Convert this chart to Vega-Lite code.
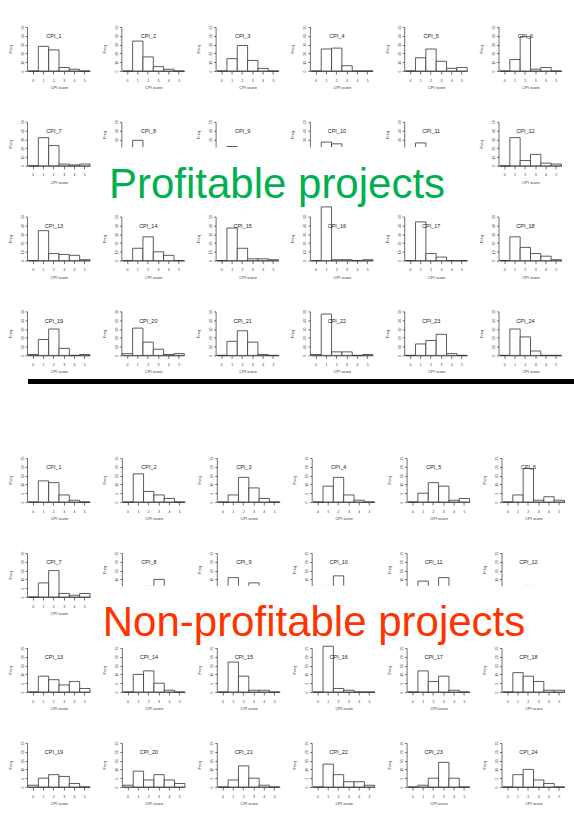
{
  "$schema": "https://vega.github.io/schema/vega-lite/v6.json",
  "background": "white",
  "padding": {"left": 8, "top": 25, "right": 0, "bottom": 0},
  "spacing": 72,
  "datasets": {
    "P": [
      {"b":0,"CPI_1":0,"CPI_2":0,"CPI_3":0,"CPI_4":0,"CPI_5":0,"CPI_6":0,"CPI_7":0,"CPI_8":0,"CPI_9":0,"CPI_10":0,"CPI_11":0,"CPI_12":0,"CPI_13":0,"CPI_14":0,"CPI_15":0,"CPI_16":0,"CPI_17":0,"CPI_18":0,"CPI_19":1,"CPI_20":2,"CPI_21":0,"CPI_22":1,"CPI_23":0,"CPI_24":0},
      {"b":1,"CPI_1":28,"CPI_2":34,"CPI_3":14,"CPI_4":25,"CPI_5":15,"CPI_6":13,"CPI_7":32,"CPI_8":29,"CPI_9":22,"CPI_10":27,"CPI_11":26,"CPI_12":32,"CPI_13":34,"CPI_14":14,"CPI_15":37,"CPI_16":61,"CPI_17":44,"CPI_18":27,"CPI_19":18,"CPI_20":31,"CPI_21":16,"CPI_22":47,"CPI_23":13,"CPI_24":30},
      {"b":2,"CPI_1":24,"CPI_2":16,"CPI_3":29,"CPI_4":26,"CPI_5":25,"CPI_6":39,"CPI_7":23,"CPI_8":17,"CPI_9":18,"CPI_10":25,"CPI_11":19,"CPI_12":6,"CPI_13":8,"CPI_14":27,"CPI_15":14,"CPI_16":1,"CPI_17":8,"CPI_18":15,"CPI_19":30,"CPI_20":15,"CPI_21":28,"CPI_22":4,"CPI_23":17,"CPI_24":21},
      {"b":3,"CPI_1":4,"CPI_2":5,"CPI_3":12,"CPI_4":6,"CPI_5":11,"CPI_6":2,"CPI_7":2,"CPI_8":6,"CPI_9":9,"CPI_10":7,"CPI_11":8,"CPI_12":13,"CPI_13":7,"CPI_14":10,"CPI_15":2,"CPI_16":1,"CPI_17":4,"CPI_18":8,"CPI_19":8,"CPI_20":7,"CPI_21":15,"CPI_22":4,"CPI_23":24,"CPI_24":5},
      {"b":4,"CPI_1":2,"CPI_2":2,"CPI_3":3,"CPI_4":0,"CPI_5":3,"CPI_6":4,"CPI_7":1,"CPI_8":2,"CPI_9":3,"CPI_10":2,"CPI_11":2,"CPI_12":3,"CPI_13":6,"CPI_14":6,"CPI_15":2,"CPI_16":0,"CPI_17":0,"CPI_18":5,"CPI_19":0,"CPI_20":1,"CPI_21":1,"CPI_22":0,"CPI_23":2,"CPI_24":0},
      {"b":5,"CPI_1":0,"CPI_2":0,"CPI_3":0,"CPI_4":0,"CPI_5":4,"CPI_6":0,"CPI_7":2,"CPI_8":0,"CPI_9":1,"CPI_10":0,"CPI_11":0,"CPI_12":2,"CPI_13":1,"CPI_14":0,"CPI_15":1,"CPI_16":1,"CPI_17":0,"CPI_18":1,"CPI_19":1,"CPI_20":2,"CPI_21":0,"CPI_22":1,"CPI_23":0,"CPI_24":0}
    ],
    "N": [
      {"b":0,"CPI_1":0,"CPI_2":0,"CPI_3":0,"CPI_4":0,"CPI_5":0,"CPI_6":0,"CPI_7":0,"CPI_8":0,"CPI_9":0,"CPI_10":0,"CPI_11":0,"CPI_12":0,"CPI_13":0,"CPI_14":0,"CPI_15":0,"CPI_16":0,"CPI_17":0,"CPI_18":0,"CPI_19":1,"CPI_20":1,"CPI_21":0,"CPI_22":0,"CPI_23":0,"CPI_24":0},
      {"b":1,"CPI_1":12,"CPI_2":16,"CPI_3":4,"CPI_4":9,"CPI_5":5,"CPI_6":4,"CPI_7":8,"CPI_8":4,"CPI_9":11,"CPI_10":6,"CPI_11":9,"CPI_12":5,"CPI_13":9,"CPI_14":10,"CPI_15":17,"CPI_16":26,"CPI_17":12,"CPI_18":11,"CPI_19":5,"CPI_20":9,"CPI_21":4,"CPI_22":13,"CPI_23":1,"CPI_24":7},
      {"b":2,"CPI_1":11,"CPI_2":6,"CPI_3":14,"CPI_4":14,"CPI_5":11,"CPI_6":19,"CPI_7":15,"CPI_8":6,"CPI_9":5,"CPI_10":12,"CPI_11":5,"CPI_12":6,"CPI_13":7,"CPI_14":12,"CPI_15":9,"CPI_16":2,"CPI_17":6,"CPI_18":9,"CPI_19":7,"CPI_20":4,"CPI_21":12,"CPI_22":7,"CPI_23":5,"CPI_24":10},
      {"b":3,"CPI_1":4,"CPI_2":4,"CPI_3":8,"CPI_4":4,"CPI_5":9,"CPI_6":1,"CPI_7":2,"CPI_8":10,"CPI_9":8,"CPI_10":5,"CPI_11":11,"CPI_12":4,"CPI_13":4,"CPI_14":5,"CPI_15":1,"CPI_16":1,"CPI_17":9,"CPI_18":6,"CPI_19":6,"CPI_20":7,"CPI_21":5,"CPI_22":3,"CPI_23":14,"CPI_24":4},
      {"b":4,"CPI_1":1,"CPI_2":2,"CPI_3":2,"CPI_4":1,"CPI_5":1,"CPI_6":3,"CPI_7":1,"CPI_8":3,"CPI_9":2,"CPI_10":2,"CPI_11":3,"CPI_12":3,"CPI_13":6,"CPI_14":1,"CPI_15":1,"CPI_16":0,"CPI_17":1,"CPI_18":1,"CPI_19":2,"CPI_20":4,"CPI_21":1,"CPI_22":3,"CPI_23":5,"CPI_24":2},
      {"b":5,"CPI_1":0,"CPI_2":0,"CPI_3":0,"CPI_4":0,"CPI_5":2,"CPI_6":1,"CPI_7":2,"CPI_8":1,"CPI_9":1,"CPI_10":0,"CPI_11":1,"CPI_12":4,"CPI_13":2,"CPI_14":0,"CPI_15":0,"CPI_16":0,"CPI_17":0,"CPI_18":1,"CPI_19":0,"CPI_20":2,"CPI_21":0,"CPI_22":1,"CPI_23":0,"CPI_24":0}
    ]
  },
  "vconcat": [
    {
      "spacing": 5,
      "vconcat": [
        {
          "data": {"name": "P"},
          "columns": 6,
          "bounds": "flush",
          "spacing": {"row": 50.8, "column": 32.3},
          "concat": [
            {"width":62,"height":44,"layer":[{"mark":"bar","encoding":{"x":{"field":"b","type":"ordinal","scale":{"paddingInner":0,"paddingOuter":0},"title":"CPI score"},"y":{"field":"CPI_1","type":"quantitative","scale":{"domain":[0,50]},"title":"Freq","axis":{"values":[0,10,20,30,40,50]}}}},{"transform":[{"filter":"datum.b==0"}],"mark":{"type":"text","text":"CPI_1"}}]},
            {"width":62,"height":44,"layer":[{"mark":"bar","encoding":{"x":{"field":"b","type":"ordinal","scale":{"paddingInner":0,"paddingOuter":0},"title":"CPI score"},"y":{"field":"CPI_2","type":"quantitative","scale":{"domain":[0,50]},"title":"Freq","axis":{"values":[0,10,20,30,40,50]}}}},{"transform":[{"filter":"datum.b==0"}],"mark":{"type":"text","text":"CPI_2"}}]},
            {"width":62,"height":44,"layer":[{"mark":"bar","encoding":{"x":{"field":"b","type":"ordinal","scale":{"paddingInner":0,"paddingOuter":0},"title":"CPI score"},"y":{"field":"CPI_3","type":"quantitative","scale":{"domain":[0,50]},"title":"Freq","axis":{"values":[0,10,20,30,40,50]}}}},{"transform":[{"filter":"datum.b==0"}],"mark":{"type":"text","text":"CPI_3"}}]},
            {"width":62,"height":44,"layer":[{"mark":"bar","encoding":{"x":{"field":"b","type":"ordinal","scale":{"paddingInner":0,"paddingOuter":0},"title":"CPI score"},"y":{"field":"CPI_4","type":"quantitative","scale":{"domain":[0,50]},"title":"Freq","axis":{"values":[0,10,20,30,40,50]}}}},{"transform":[{"filter":"datum.b==0"}],"mark":{"type":"text","text":"CPI_4"}}]},
            {"width":62,"height":44,"layer":[{"mark":"bar","encoding":{"x":{"field":"b","type":"ordinal","scale":{"paddingInner":0,"paddingOuter":0},"title":"CPI score"},"y":{"field":"CPI_5","type":"quantitative","scale":{"domain":[0,50]},"title":"Freq","axis":{"values":[0,10,20,30,40,50]}}}},{"transform":[{"filter":"datum.b==0"}],"mark":{"type":"text","text":"CPI_5"}}]},
            {"width":62,"height":44,"layer":[{"mark":"bar","encoding":{"x":{"field":"b","type":"ordinal","scale":{"paddingInner":0,"paddingOuter":0},"title":"CPI score"},"y":{"field":"CPI_6","type":"quantitative","scale":{"domain":[0,50]},"title":"Freq","axis":{"values":[0,10,20,30,40,50]}}}},{"transform":[{"filter":"datum.b==0"}],"mark":{"type":"text","text":"CPI_6"}}]},
            {"width":62,"height":44,"layer":[{"mark":"bar","encoding":{"x":{"field":"b","type":"ordinal","scale":{"paddingInner":0,"paddingOuter":0},"title":"CPI score"},"y":{"field":"CPI_7","type":"quantitative","scale":{"domain":[0,50]},"title":"Freq","axis":{"values":[0,10,20,30,40,50]}}}},{"transform":[{"filter":"datum.b==0"}],"mark":{"type":"text","text":"CPI_7"}}]},
            {"width":62,"height":25.2,"layer":[{"mark":{"type":"bar","clip":true},"encoding":{"x":{"field":"b","type":"ordinal","scale":{"paddingInner":0,"paddingOuter":0},"axis":null},"y":{"field":"CPI_8","type":"quantitative","scale":{"domain":[21.4,50]},"title":"Freq","axis":{"values":[30,40,50]}}}},{"transform":[{"filter":"datum.b==0"}],"mark":{"type":"text","text":"CPI_8","dy":-3.3}},{"transform":[{"filter":"datum.b==0"}],"mark":{"type":"text","text":"Profitable projects","fontSize":42,"color":"#00B050","baseline":"alphabetic","dx":123.7,"dy":63.6}}]},
            {"width":62,"height":25.2,"layer":[{"mark":{"type":"bar","clip":true},"encoding":{"x":{"field":"b","type":"ordinal","scale":{"paddingInner":0,"paddingOuter":0},"axis":null},"y":{"field":"CPI_9","type":"quantitative","scale":{"domain":[21.4,50]},"title":"Freq","axis":{"values":[30,40,50]}}}},{"transform":[{"filter":"datum.b==0"}],"mark":{"type":"text","text":"CPI_9","dy":-3.3}}]},
            {"width":62,"height":25.2,"layer":[{"mark":{"type":"bar","clip":true},"encoding":{"x":{"field":"b","type":"ordinal","scale":{"paddingInner":0,"paddingOuter":0},"axis":null},"y":{"field":"CPI_10","type":"quantitative","scale":{"domain":[21.4,50]},"title":"Freq","axis":{"values":[30,40,50]}}}},{"transform":[{"filter":"datum.b==0"}],"mark":{"type":"text","text":"CPI_10","dy":-3.3}}]},
            {"width":62,"height":25.2,"layer":[{"mark":{"type":"bar","clip":true},"encoding":{"x":{"field":"b","type":"ordinal","scale":{"paddingInner":0,"paddingOuter":0},"axis":null},"y":{"field":"CPI_11","type":"quantitative","scale":{"domain":[21.4,50]},"title":"Freq","axis":{"values":[30,40,50]}}}},{"transform":[{"filter":"datum.b==0"}],"mark":{"type":"text","text":"CPI_11","dy":-3.3}}]},
            {"width":62,"height":44,"layer":[{"mark":"bar","encoding":{"x":{"field":"b","type":"ordinal","scale":{"paddingInner":0,"paddingOuter":0},"title":"CPI score"},"y":{"field":"CPI_12","type":"quantitative","scale":{"domain":[0,50]},"title":"Freq","axis":{"values":[0,10,20,30,40,50]}}}},{"transform":[{"filter":"datum.b==0"}],"mark":{"type":"text","text":"CPI_12"}}]},
            {"width":62,"height":44,"layer":[{"mark":"bar","encoding":{"x":{"field":"b","type":"ordinal","scale":{"paddingInner":0,"paddingOuter":0},"title":"CPI score"},"y":{"field":"CPI_13","type":"quantitative","scale":{"domain":[0,50]},"title":"Freq","axis":{"values":[0,10,20,30,40,50]}}}},{"transform":[{"filter":"datum.b==0"}],"mark":{"type":"text","text":"CPI_13"}}]},
            {"width":62,"height":44,"layer":[{"mark":"bar","encoding":{"x":{"field":"b","type":"ordinal","scale":{"paddingInner":0,"paddingOuter":0},"title":"CPI score"},"y":{"field":"CPI_14","type":"quantitative","scale":{"domain":[0,50]},"title":"Freq","axis":{"values":[0,10,20,30,40,50]}}}},{"transform":[{"filter":"datum.b==0"}],"mark":{"type":"text","text":"CPI_14"}}]},
            {"width":62,"height":44,"layer":[{"mark":"bar","encoding":{"x":{"field":"b","type":"ordinal","scale":{"paddingInner":0,"paddingOuter":0},"title":"CPI score"},"y":{"field":"CPI_15","type":"quantitative","scale":{"domain":[0,50]},"title":"Freq","axis":{"values":[0,10,20,30,40,50]}}}},{"transform":[{"filter":"datum.b==0"}],"mark":{"type":"text","text":"CPI_15"}}]},
            {"width":62,"height":44,"layer":[{"mark":"bar","encoding":{"x":{"field":"b","type":"ordinal","scale":{"paddingInner":0,"paddingOuter":0},"title":"CPI score"},"y":{"field":"CPI_16","type":"quantitative","scale":{"domain":[0,50]},"title":"Freq","axis":{"values":[0,10,20,30,40,50]}}}},{"transform":[{"filter":"datum.b==0"}],"mark":{"type":"text","text":"CPI_16"}}]},
            {"width":62,"height":44,"layer":[{"mark":"bar","encoding":{"x":{"field":"b","type":"ordinal","scale":{"paddingInner":0,"paddingOuter":0},"title":"CPI score"},"y":{"field":"CPI_17","type":"quantitative","scale":{"domain":[0,50]},"title":"Freq","axis":{"values":[0,10,20,30,40,50]}}}},{"transform":[{"filter":"datum.b==0"}],"mark":{"type":"text","text":"CPI_17"}}]},
            {"width":62,"height":44,"layer":[{"mark":"bar","encoding":{"x":{"field":"b","type":"ordinal","scale":{"paddingInner":0,"paddingOuter":0},"title":"CPI score"},"y":{"field":"CPI_18","type":"quantitative","scale":{"domain":[0,50]},"title":"Freq","axis":{"values":[0,10,20,30,40,50]}}}},{"transform":[{"filter":"datum.b==0"}],"mark":{"type":"text","text":"CPI_18"}}]},
            {"width":62,"height":44,"layer":[{"mark":"bar","encoding":{"x":{"field":"b","type":"ordinal","scale":{"paddingInner":0,"paddingOuter":0},"title":"CPI score"},"y":{"field":"CPI_19","type":"quantitative","scale":{"domain":[0,50]},"title":"Freq","axis":{"values":[0,10,20,30,40,50]}}}},{"transform":[{"filter":"datum.b==0"}],"mark":{"type":"text","text":"CPI_19"}}]},
            {"width":62,"height":44,"layer":[{"mark":"bar","encoding":{"x":{"field":"b","type":"ordinal","scale":{"paddingInner":0,"paddingOuter":0},"title":"CPI score"},"y":{"field":"CPI_20","type":"quantitative","scale":{"domain":[0,50]},"title":"Freq","axis":{"values":[0,10,20,30,40,50]}}}},{"transform":[{"filter":"datum.b==0"}],"mark":{"type":"text","text":"CPI_20"}}]},
            {"width":62,"height":44,"layer":[{"mark":"bar","encoding":{"x":{"field":"b","type":"ordinal","scale":{"paddingInner":0,"paddingOuter":0},"title":"CPI score"},"y":{"field":"CPI_21","type":"quantitative","scale":{"domain":[0,50]},"title":"Freq","axis":{"values":[0,10,20,30,40,50]}}}},{"transform":[{"filter":"datum.b==0"}],"mark":{"type":"text","text":"CPI_21"}}]},
            {"width":62,"height":44,"layer":[{"mark":"bar","encoding":{"x":{"field":"b","type":"ordinal","scale":{"paddingInner":0,"paddingOuter":0},"title":"CPI score"},"y":{"field":"CPI_22","type":"quantitative","scale":{"domain":[0,50]},"title":"Freq","axis":{"values":[0,10,20,30,40,50]}}}},{"transform":[{"filter":"datum.b==0"}],"mark":{"type":"text","text":"CPI_22"}}]},
            {"width":62,"height":44,"layer":[{"mark":"bar","encoding":{"x":{"field":"b","type":"ordinal","scale":{"paddingInner":0,"paddingOuter":0},"title":"CPI score"},"y":{"field":"CPI_23","type":"quantitative","scale":{"domain":[0,50]},"title":"Freq","axis":{"values":[0,10,20,30,40,50]}}}},{"transform":[{"filter":"datum.b==0"}],"mark":{"type":"text","text":"CPI_23"}}]},
            {"width":62,"height":44,"layer":[{"mark":"bar","encoding":{"x":{"field":"b","type":"ordinal","scale":{"paddingInner":0,"paddingOuter":0},"title":"CPI score"},"y":{"field":"CPI_24","type":"quantitative","scale":{"domain":[0,50]},"title":"Freq","axis":{"values":[0,10,20,30,40,50]}}}},{"transform":[{"filter":"datum.b==0"}],"mark":{"type":"text","text":"CPI_24"}}]}
          ]
        },
        {
          "width": 566,
          "height": 5,
          "data": {"values": [{"y": 0.5}]},
          "mark": {"type": "rule", "color": "black", "strokeWidth": 5},
          "encoding": {"y": {"field": "y", "type": "quantitative", "scale": {"domain": [0, 1]}, "axis": null}}
        }
      ]
    },
    {
      "data": {"name": "N"},
      "columns": 6,
      "bounds": "flush",
      "spacing": {"row": 51, "column": 32.9},
      "concat": [
        {"width":62,"height":44,"layer":[{"mark":"bar","encoding":{"x":{"field":"b","type":"ordinal","scale":{"paddingInner":0,"paddingOuter":0},"title":"CPI score"},"y":{"field":"CPI_1","type":"quantitative","scale":{"domain":[0,25]},"title":"Freq","axis":{"values":[0,5,10,15,20,25]}}}},{"transform":[{"filter":"datum.b==0"}],"mark":{"type":"text","text":"CPI_1"}}]},
        {"width":62,"height":44,"layer":[{"mark":"bar","encoding":{"x":{"field":"b","type":"ordinal","scale":{"paddingInner":0,"paddingOuter":0},"title":"CPI score"},"y":{"field":"CPI_2","type":"quantitative","scale":{"domain":[0,25]},"title":"Freq","axis":{"values":[0,5,10,15,20,25]}}}},{"transform":[{"filter":"datum.b==0"}],"mark":{"type":"text","text":"CPI_2"}}]},
        {"width":62,"height":44,"layer":[{"mark":"bar","encoding":{"x":{"field":"b","type":"ordinal","scale":{"paddingInner":0,"paddingOuter":0},"title":"CPI score"},"y":{"field":"CPI_3","type":"quantitative","scale":{"domain":[0,25]},"title":"Freq","axis":{"values":[0,5,10,15,20,25]}}}},{"transform":[{"filter":"datum.b==0"}],"mark":{"type":"text","text":"CPI_3"}}]},
        {"width":62,"height":44,"layer":[{"mark":"bar","encoding":{"x":{"field":"b","type":"ordinal","scale":{"paddingInner":0,"paddingOuter":0},"title":"CPI score"},"y":{"field":"CPI_4","type":"quantitative","scale":{"domain":[0,25]},"title":"Freq","axis":{"values":[0,5,10,15,20,25]}}}},{"transform":[{"filter":"datum.b==0"}],"mark":{"type":"text","text":"CPI_4"}}]},
        {"width":62,"height":44,"layer":[{"mark":"bar","encoding":{"x":{"field":"b","type":"ordinal","scale":{"paddingInner":0,"paddingOuter":0},"title":"CPI score"},"y":{"field":"CPI_5","type":"quantitative","scale":{"domain":[0,25]},"title":"Freq","axis":{"values":[0,5,10,15,20,25]}}}},{"transform":[{"filter":"datum.b==0"}],"mark":{"type":"text","text":"CPI_5"}}]},
        {"width":62,"height":44,"layer":[{"mark":"bar","encoding":{"x":{"field":"b","type":"ordinal","scale":{"paddingInner":0,"paddingOuter":0},"title":"CPI score"},"y":{"field":"CPI_6","type":"quantitative","scale":{"domain":[0,25]},"title":"Freq","axis":{"values":[0,5,10,15,20,25]}}}},{"transform":[{"filter":"datum.b==0"}],"mark":{"type":"text","text":"CPI_6"}}]},
        {"width":62,"height":44,"layer":[{"mark":"bar","encoding":{"x":{"field":"b","type":"ordinal","scale":{"paddingInner":0,"paddingOuter":0},"title":"CPI score"},"y":{"field":"CPI_7","type":"quantitative","scale":{"domain":[0,25]},"title":"Freq","axis":{"values":[0,5,10,15,20,25]}}}},{"transform":[{"filter":"datum.b==0"}],"mark":{"type":"text","text":"CPI_7"}}]},
        {"width":62,"height":32.7,"layer":[{"mark":{"type":"bar","clip":true},"encoding":{"x":{"field":"b","type":"ordinal","scale":{"paddingInner":0,"paddingOuter":0},"axis":null},"y":{"field":"CPI_8","type":"quantitative","scale":{"domain":[6.4,25]},"title":"Freq","axis":{"values":[10,15,20,25]}}}},{"transform":[{"filter":"datum.b==0"}],"mark":{"type":"text","text":"CPI_8","dy":-7.05}},{"transform":[{"filter":"datum.b==0"}],"mark":{"type":"text","text":"Non-profitable projects","fontSize":42,"color":"#FF3300","baseline":"alphabetic","dx":160.1,"dy":66.65}}]},
        {"width":62,"height":32.7,"layer":[{"mark":{"type":"bar","clip":true},"encoding":{"x":{"field":"b","type":"ordinal","scale":{"paddingInner":0,"paddingOuter":0},"axis":null},"y":{"field":"CPI_9","type":"quantitative","scale":{"domain":[6.4,25]},"title":"Freq","axis":{"values":[10,15,20,25]}}}},{"transform":[{"filter":"datum.b==0"}],"mark":{"type":"text","text":"CPI_9","dy":-7.05}}]},
        {"width":62,"height":32.7,"layer":[{"mark":{"type":"bar","clip":true},"encoding":{"x":{"field":"b","type":"ordinal","scale":{"paddingInner":0,"paddingOuter":0},"axis":null},"y":{"field":"CPI_10","type":"quantitative","scale":{"domain":[6.4,25]},"title":"Freq","axis":{"values":[10,15,20,25]}}}},{"transform":[{"filter":"datum.b==0"}],"mark":{"type":"text","text":"CPI_10","dy":-7.05}}]},
        {"width":62,"height":32.7,"layer":[{"mark":{"type":"bar","clip":true},"encoding":{"x":{"field":"b","type":"ordinal","scale":{"paddingInner":0,"paddingOuter":0},"axis":null},"y":{"field":"CPI_11","type":"quantitative","scale":{"domain":[6.4,25]},"title":"Freq","axis":{"values":[10,15,20,25]}}}},{"transform":[{"filter":"datum.b==0"}],"mark":{"type":"text","text":"CPI_11","dy":-7.05}}]},
        {"width":62,"height":32.7,"layer":[{"mark":{"type":"bar","clip":true},"encoding":{"x":{"field":"b","type":"ordinal","scale":{"paddingInner":0,"paddingOuter":0},"axis":null},"y":{"field":"CPI_12","type":"quantitative","scale":{"domain":[6.4,25]},"title":"Freq","axis":{"values":[10,15,20,25]}}}},{"transform":[{"filter":"datum.b==0"}],"mark":{"type":"text","text":"CPI_12","dy":-7.05}}]},
        {"width":62,"height":44,"layer":[{"mark":"bar","encoding":{"x":{"field":"b","type":"ordinal","scale":{"paddingInner":0,"paddingOuter":0},"title":"CPI score"},"y":{"field":"CPI_13","type":"quantitative","scale":{"domain":[0,25]},"title":"Freq","axis":{"values":[0,5,10,15,20,25]}}}},{"transform":[{"filter":"datum.b==0"}],"mark":{"type":"text","text":"CPI_13"}}]},
        {"width":62,"height":44,"layer":[{"mark":"bar","encoding":{"x":{"field":"b","type":"ordinal","scale":{"paddingInner":0,"paddingOuter":0},"title":"CPI score"},"y":{"field":"CPI_14","type":"quantitative","scale":{"domain":[0,25]},"title":"Freq","axis":{"values":[0,5,10,15,20,25]}}}},{"transform":[{"filter":"datum.b==0"}],"mark":{"type":"text","text":"CPI_14"}}]},
        {"width":62,"height":44,"layer":[{"mark":"bar","encoding":{"x":{"field":"b","type":"ordinal","scale":{"paddingInner":0,"paddingOuter":0},"title":"CPI score"},"y":{"field":"CPI_15","type":"quantitative","scale":{"domain":[0,25]},"title":"Freq","axis":{"values":[0,5,10,15,20,25]}}}},{"transform":[{"filter":"datum.b==0"}],"mark":{"type":"text","text":"CPI_15"}}]},
        {"width":62,"height":44,"layer":[{"mark":"bar","encoding":{"x":{"field":"b","type":"ordinal","scale":{"paddingInner":0,"paddingOuter":0},"title":"CPI score"},"y":{"field":"CPI_16","type":"quantitative","scale":{"domain":[0,25]},"title":"Freq","axis":{"values":[0,5,10,15,20,25]}}}},{"transform":[{"filter":"datum.b==0"}],"mark":{"type":"text","text":"CPI_16"}}]},
        {"width":62,"height":44,"layer":[{"mark":"bar","encoding":{"x":{"field":"b","type":"ordinal","scale":{"paddingInner":0,"paddingOuter":0},"title":"CPI score"},"y":{"field":"CPI_17","type":"quantitative","scale":{"domain":[0,25]},"title":"Freq","axis":{"values":[0,5,10,15,20,25]}}}},{"transform":[{"filter":"datum.b==0"}],"mark":{"type":"text","text":"CPI_17"}}]},
        {"width":62,"height":44,"layer":[{"mark":"bar","encoding":{"x":{"field":"b","type":"ordinal","scale":{"paddingInner":0,"paddingOuter":0},"title":"CPI score"},"y":{"field":"CPI_18","type":"quantitative","scale":{"domain":[0,25]},"title":"Freq","axis":{"values":[0,5,10,15,20,25]}}}},{"transform":[{"filter":"datum.b==0"}],"mark":{"type":"text","text":"CPI_18"}}]},
        {"width":62,"height":44,"layer":[{"mark":"bar","encoding":{"x":{"field":"b","type":"ordinal","scale":{"paddingInner":0,"paddingOuter":0},"title":"CPI score"},"y":{"field":"CPI_19","type":"quantitative","scale":{"domain":[0,25]},"title":"Freq","axis":{"values":[0,5,10,15,20,25]}}}},{"transform":[{"filter":"datum.b==0"}],"mark":{"type":"text","text":"CPI_19"}}]},
        {"width":62,"height":44,"layer":[{"mark":"bar","encoding":{"x":{"field":"b","type":"ordinal","scale":{"paddingInner":0,"paddingOuter":0},"title":"CPI score"},"y":{"field":"CPI_20","type":"quantitative","scale":{"domain":[0,25]},"title":"Freq","axis":{"values":[0,5,10,15,20,25]}}}},{"transform":[{"filter":"datum.b==0"}],"mark":{"type":"text","text":"CPI_20"}}]},
        {"width":62,"height":44,"layer":[{"mark":"bar","encoding":{"x":{"field":"b","type":"ordinal","scale":{"paddingInner":0,"paddingOuter":0},"title":"CPI score"},"y":{"field":"CPI_21","type":"quantitative","scale":{"domain":[0,25]},"title":"Freq","axis":{"values":[0,5,10,15,20,25]}}}},{"transform":[{"filter":"datum.b==0"}],"mark":{"type":"text","text":"CPI_21"}}]},
        {"width":62,"height":44,"layer":[{"mark":"bar","encoding":{"x":{"field":"b","type":"ordinal","scale":{"paddingInner":0,"paddingOuter":0},"title":"CPI score"},"y":{"field":"CPI_22","type":"quantitative","scale":{"domain":[0,25]},"title":"Freq","axis":{"values":[0,5,10,15,20,25]}}}},{"transform":[{"filter":"datum.b==0"}],"mark":{"type":"text","text":"CPI_22"}}]},
        {"width":62,"height":44,"layer":[{"mark":"bar","encoding":{"x":{"field":"b","type":"ordinal","scale":{"paddingInner":0,"paddingOuter":0},"title":"CPI score"},"y":{"field":"CPI_23","type":"quantitative","scale":{"domain":[0,25]},"title":"Freq","axis":{"values":[0,5,10,15,20,25]}}}},{"transform":[{"filter":"datum.b==0"}],"mark":{"type":"text","text":"CPI_23"}}]},
        {"width":62,"height":44,"layer":[{"mark":"bar","encoding":{"x":{"field":"b","type":"ordinal","scale":{"paddingInner":0,"paddingOuter":0},"title":"CPI score"},"y":{"field":"CPI_24","type":"quantitative","scale":{"domain":[0,25]},"title":"Freq","axis":{"values":[0,5,10,15,20,25]}}}},{"transform":[{"filter":"datum.b==0"}],"mark":{"type":"text","text":"CPI_24"}}]}
      ]
    }
  ],
  "config": {
    "font": "Liberation Sans",
    "view": {"stroke": null},
    "bar": {"fill": "white", "stroke": "#333", "strokeWidth": 0.8},
    "text": {"fontSize": 5.5, "dx": -5, "dy": -12.7, "color": "#222"},
    "axis": {"grid": false, "domainColor": "#333", "tickColor": "#333", "labelColor": "#333", "titleColor": "#333", "labelFontSize": 3.5, "titleFontSize": 4, "titleFontWeight": "normal", "domainWidth": 0.7, "tickWidth": 0.7, "labelOverlap": false},
    "axisX": {"tickSize": 3, "labelPadding": 4, "titlePadding": 4, "labelAngle": 0},
    "axisY": {"tickSize": 2, "labelAngle": -90, "labelAlign": "center", "labelBaseline": "bottom", "labelPadding": 1, "titlePadding": 8, "offset": 1}
  }
}
